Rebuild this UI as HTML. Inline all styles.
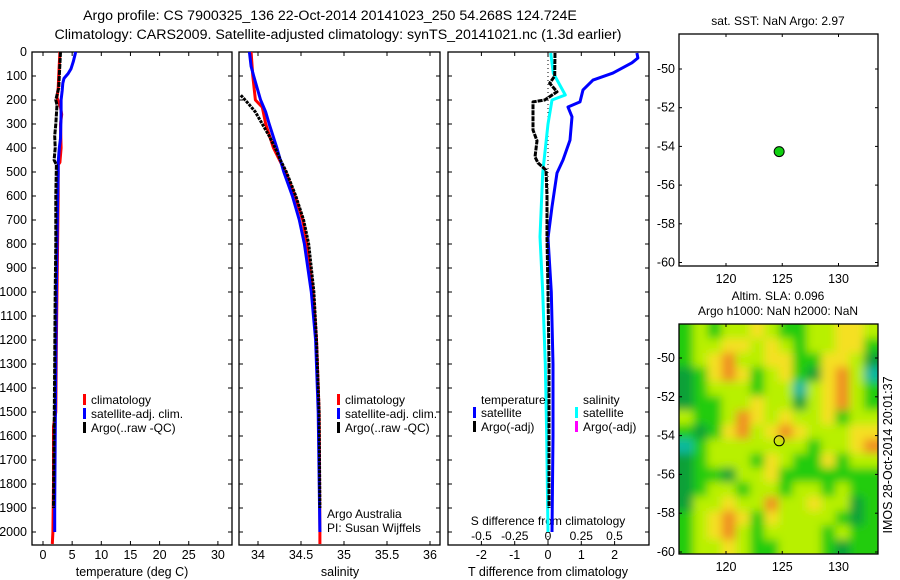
<!DOCTYPE html>
<html><head><meta charset="utf-8"><style>
body{margin:0;background:#fff}
svg{display:block;font-family:"Liberation Sans",sans-serif;font-size:12px}
</style></head><body>
<svg id="c" width="900" height="580" viewBox="0 0 900 580">
<text x="330" y="20" text-anchor="middle" font-size="14.2">Argo profile: CS 7900325_136 22-Oct-2014 20141023_250 54.268S 124.724E</text>
<text x="338" y="39" text-anchor="middle" font-size="14.2">Climatology: CARS2009. Satellite-adjusted climatology: synTS_20141021.nc (1.3d earlier)</text>
<g id="g"></g>
</svg>
<script>
// depth ticks
const depthTicks=[0,100,200,300,400,500,600,700,800,900,1000,1100,1200,1300,1400,1500,1600,1700,1800,1900,2000];
// temperature panel
const tTicks=[0,5,10,15,20,25,30];
const tClimDepth=[0,50,100,150,190,230,260,300,400,460,470,600,800,1000,1200,1500,1560,1800,2000,2050];
const tClimVal=[2.9,2.8,2.7,2.6,2.4,3.0,3.2,3.0,3.1,2.9,2.6,2.6,2.5,2.4,2.3,2.2,1.8,1.8,1.7,1.6];
const tSatDepth=[0,10,40,70,90,110,130,160,200,260,360,400,460,500,620,800,1000,1300,1600,1900,2000];
const tSatVal=[5.6,5.5,5.2,4.8,4.3,3.6,3.4,3.3,3.1,3.1,3.0,2.8,2.6,2.6,2.5,2.4,2.3,2.2,2.1,2.0,2.0];
const tArgoDepth=[0,50,100,150,200,220,300,350,400,450,470,600,800,1000,1300,1600,1900];
const tArgoVal=[3.0,2.9,2.8,2.7,2.2,2.4,2.2,2.0,2.1,1.9,2.3,2.2,2.2,2.1,2.0,1.9,1.8];
// salinity panel
const sTicks=[34,34.5,35,35.5,36];
const sClimDepth=[0,100,200,230,300,400,500,600,700,800,1000,1200,1500,2000,2050];
const sClimVal=[33.92,33.94,33.97,34.05,34.09,34.18,34.32,34.43,34.52,34.57,34.64,34.68,34.71,34.72,34.72];
const sSatDepth=[0,60,100,200,250,300,400,500,600,700,800,1000,1200,1500,2000];
const sSatVal=[33.9,33.92,33.95,34.03,34.09,34.13,34.22,34.3,34.4,34.48,34.54,34.62,34.67,34.7,34.72];
const sArgoDepth=[180,200,220,250,300,350,400,450,500,600,700,800,1000,1200,1500,1900];
const sArgoVal=[33.8,33.85,33.9,33.97,34.05,34.13,34.2,34.26,34.33,34.44,34.53,34.59,34.65,34.68,34.71,34.72];
// difference panel
const dTTicks=[-2,-1,0,1,2];
const dSTicks=[-0.5,-0.25,0,0.25,0.5];
const dTSatDepth=[4,25,45,88,117,158,208,229,270,367,450,504,645,775,1000,1300,1600,2000];
const dTSatVal=[2.67,2.7,2.52,1.95,1.35,1.05,0.96,0.6,0.72,0.66,0.45,0.27,0.12,0.0,0.1,0.15,0.15,0.12];
const dSSatDepth=[4,88,179,200,300,504,770,1000,1300,1600,2000];
const dSSatVal=[0.02,0.04,0.13,0.03,0.0,-0.04,-0.06,-0.04,-0.02,-0.01,0.0];
const dTArgoDepth=[4,100,130,166,200,208,250,325,370,437,462,492,600,775,1000,1300,1600,1900];
const dTArgoVal=[0.21,0.2,0.05,0.27,-0.1,-0.45,-0.45,-0.45,-0.33,-0.39,-0.3,-0.06,-0.03,-0.03,0.0,0.03,0.03,0.03];
// maps
const lonTicks=[120,125,130];
const latTicks=[50,52,54,56,58,60];
const argoLon=124.724, argoLat=54.268;
const slaGrid=[
[2,3,2,3,3,4,3,2,2,3,3,4,4,3],
[2,3,3,4,4,3,4,3,2,3,3,4,4,2],
[2,3,4,5,3,3,4,4,2,2,4,4,3,1],
[1,2,4,5,4,2,3,4,2,1,4,5,3,0],
[1,2,3,3,3,2,3,3,0,3,4,5,3,2],
[1,2,2,3,3,4,3,3,1,3,4,5,3,2],
[3,2,2,3,5,4,3,4,3,3,4,2,3,3],
[2,1,2,4,5,3,4,5,4,3,3,3,4,4],
[0,2,3,3,3,3,3,3,3,2,3,3,4,5],
[1,2,3,3,3,2,4,3,2,2,4,2,3,3],
[1,2,2,1,3,3,4,2,2,2,2,2,2,2],
[1,2,3,3,2,3,3,2,3,3,2,3,2,2],
[1,3,3,4,3,3,5,3,3,4,3,3,1,2],
[2,3,4,5,4,2,4,3,3,3,3,2,1,2],
[2,3,4,5,3,2,3,3,3,3,2,3,2,2],
[2,3,3,4,3,2,2,3,3,3,2,1,2,2]];
const slaColors=["#10b8a0","#10a038","#20cc10","#b8f000","#f5e020","#f09020"];

const NS="http://www.w3.org/2000/svg";
const G=document.getElementById('g');
function mk(tag,attrs,parent,txt){const e=document.createElementNS(NS,tag);for(const k in attrs)e.setAttribute(k,attrs[k]);if(txt!==undefined)e.textContent=txt;(parent||G).appendChild(e);return e;}
const Y0=52,KY=0.24,BOT=545;
const dy=d=>Y0+d*KY;
const xT=v=>43+v*5.83;
const xS=v=>258+(v-34)*86;
const xD=v=>548+v*33.3;
const xDS=v=>548+v*133;

function box(x1,x2,y1,y2,name){
  const r=mk('rect',{x:x1,y:y1,width:x2-x1,height:y2-y1,fill:'none',stroke:'#000','stroke-width':1.3});
  
  
}
function depthAxis(x1,x2,labels){
  depthTicks.forEach(d=>{
    mk('line',{x1:x1,x2:x1+4,y1:dy(d),y2:dy(d),stroke:'#000'});
    mk('line',{x1:x2,x2:x2-4,y1:dy(d),y2:dy(d),stroke:'#000'});
    if(labels){const t=mk('text',{x:x1-5,y:dy(d)+4,'text-anchor':'end','font-size':12.5},G,String(d));
      
      }
  });
}
function xAxis(ticks,fx,fmt,y1,y2,ly){
  ticks.forEach(v=>{
    mk('line',{x1:fx(v),x2:fx(v),y1:y2,y2:y2-4,stroke:'#000'});
    mk('line',{x1:fx(v),x2:fx(v),y1:y1,y2:y1+4,stroke:'#000'});
    const t=mk('text',{x:fx(v),y:ly,'text-anchor':'middle','font-size':12.5},G,fmt(v));
    
    
  });
}
function series(dep,val,fx,color,w,name,dash){
  const pts=dep.map((d,i)=>fx(val[i]).toFixed(1)+','+dy(d).toFixed(1)).join(' ');
  const a={points:pts,fill:'none',stroke:color,'stroke-width':w,'stroke-linejoin':'round'};
  if(dash)a['stroke-dasharray']=dash;
  const p=mk('polyline',a);
  
  
}
function legend(x,y,color,label,name){
  const g=mk('g',{});
  
  
  mk('rect',{x:x,y:y-6,width:3,height:11,fill:color},g);
  mk('text',{x:x+8,y:y+4},g,label);
}
function txt(x,y,s,name,anchor,extra){
  const t=mk('text',Object.assign({x:x,y:y,'text-anchor':anchor||'start'},extra||{}),G,s);
  
  
  return t;
}

// Panel 1 temperature
box(32,232,Y0,BOT,'temperature-axes');
depthAxis(32,232,true);
xAxis(tTicks,xT,v=>String(v),Y0,BOT,559);
series(tClimDepth,tClimVal,xT,'#f00',3,'temp-climatology-line');
series(tSatDepth,tSatVal,xT,'#00f',3,'temp-satellite-line');
series(tArgoDepth,tArgoVal,xT,'#000',3,'temp-argo-line','5 1');
txt(132,576,'temperature (deg C)','temperature-axis-title','middle',{'font-size':12.5});
legend(83,400,'#f00','climatology','legend-climatology');
legend(83,414,'#00f','satellite-adj. clim.','legend-satellite');
legend(83,428,'#000','Argo(..raw -QC)','legend-argo');

// Panel 2 salinity
box(239,440,Y0,BOT,'salinity-axes');
depthAxis(239,440,false);
xAxis(sTicks,xS,v=>String(v),Y0,BOT,559);
series(sClimDepth,sClimVal,xS,'#f00',3,'sal-climatology-line');
series(sSatDepth,sSatVal,xS,'#00f',3,'sal-satellite-line');
series(sArgoDepth,sArgoVal,xS,'#000',3,'sal-argo-line','3 1');
txt(340,576,'salinity','salinity-axis-title','middle',{'font-size':12.5});
legend(337,400,'#f00','climatology','legend-sal-climatology');
legend(337,414,'#00f','satellite-adj. clim.','legend-sal-satellite');
legend(337,428,'#000','Argo(..raw -QC)','legend-sal-argo');
txt(327,518,'Argo Australia','argo-australia-label');
txt(327,532,'PI: Susan Wijffels','pi-label');

// Panel 3 differences
box(448,649,Y0,BOT,'difference-axes');
depthAxis(448,649,false);
mk('line',{x1:xD(0),x2:xD(0),y1:Y0,y2:BOT,stroke:'#000','stroke-dasharray':'1 3'});
xAxis(dTTicks,xD,v=>String(v),Y0,BOT,559);
dSTicks.forEach(v=>{txt(xDS(v),540,String(v),'s-diff-tick-label','middle');});
txt(548,525,'S difference from climatology','s-diff-axis-title','middle');
txt(548,576,'T difference from climatology','t-diff-axis-title','middle',{'font-size':12.5});
series(dTSatDepth,dTSatVal,xD,'#00f',3,'tdiff-satellite-line');
series(dSSatDepth,dSSatVal,xDS,'#0ff',3,'sdiff-satellite-line');
series(dTArgoDepth,dTArgoVal,xD,'#000',3,'tdiff-argo-line','5 1');
txt(481,404,'temperature','legend-temperature-heading');
txt(583,404,'salinity','legend-salinity-heading');
legend(473,413,'#00f','satellite','legend-t-satellite');
legend(473,427,'#000','Argo(-adj)','legend-t-argo');
legend(575,413,'#0ff','satellite','legend-s-satellite');
legend(575,427,'#f0f','Argo(-adj)','legend-s-argo');

// Maps
const MX1=679,MX2=878;
const lonX=v=>726+(v-120)*11.25;
function mapAxes(y1,y2,latY,name){
  box(MX1,MX2,y1,y2,name);
  lonTicks.forEach(v=>{
    mk('line',{x1:lonX(v),x2:lonX(v),y1:y1,y2:y1+3,stroke:'#000'});
    mk('line',{x1:lonX(v),x2:lonX(v),y1:y2,y2:y2-3,stroke:'#000'});
    txt(lonX(v),y2+17,String(v),'lon-tick-label','middle',{'font-size':12.5});
  });
  latTicks.forEach(v=>{
    mk('line',{x1:MX1,x2:MX1+3,y1:latY(v),y2:latY(v),stroke:'#000'});
    mk('line',{x1:MX2,x2:MX2-3,y1:latY(v),y2:latY(v),stroke:'#000'});
    txt(MX1-4,latY(v)+4,'-'+v,'lat-tick-label','end',{'font-size':12.5});
  });
}
// SST map
const latY1=v=>69+(v-50)*19.35;
txt(778,25,'sat. SST: NaN Argo: 2.97','sst-title','middle');
mapAxes(34,266,latY1,'sst-map-axes');
const dot=mk('circle',{cx:lonX(argoLon),cy:latY1(argoLat),r:5,fill:'#10d010',stroke:'#000','stroke-width':1});



// SLA map
const latY2=v=>358+(v-50)*19.4;
txt(778,300,'Altim. SLA: 0.096','sla-title','middle');
txt(778,315,'Argo h1000: NaN h2000: NaN','h-title','middle');
const defs=mk('defs',{});
const cp=mk('clipPath',{id:'clip'},defs);
mk('rect',{x:MX1,y:324,width:MX2-MX1,height:230},cp);
const f=mk('filter',{id:'blur',x:'-10%',y:'-10%',width:'120%',height:'120%'},defs);
mk('feGaussianBlur',{stdDeviation:4.5},f);
const hc=mk('g',{'clip-path':'url(#clip)'});


const hb=mk('g',{filter:'url(#blur)'},hc);
const nr=slaGrid.length,nc=slaGrid[0].length,cw=(MX2-MX1)/nc,ch=230/nr;
slaGrid.forEach((row,i)=>row.forEach((v,j)=>{
  let x=MX1+j*cw,y=324+i*ch,w=cw+0.5,h=ch+0.5;
  if(j==0){x-=15;w+=15;} if(j==nc-1){w+=15;}
  if(i==0){y-=15;h+=15;} if(i==nr-1){h+=15;}
  const r=mk('rect',{x:x,y:y,width:w,height:h,fill:slaColors[v]},hb);
  
  
}));
mapAxes(324,554,latY2,'sla-map-axes');
const ring=mk('circle',{cx:lonX(argoLon),cy:latY2(argoLat),r:5,fill:'none',stroke:'#000','stroke-width':1});


txt(0,0,'IMOS 28-Oct-2014 20:01:37','imos-timestamp','middle',{transform:'translate(892,455) rotate(-90)','font-size':12.5});
</script>
</body></html>
